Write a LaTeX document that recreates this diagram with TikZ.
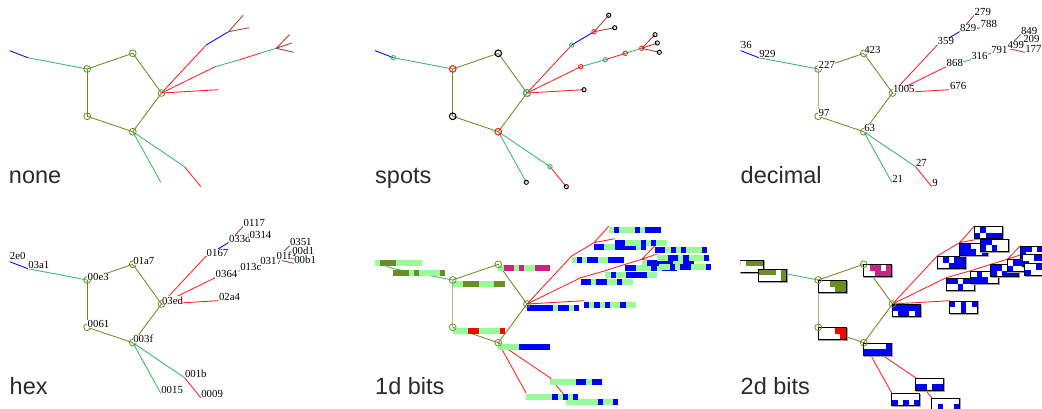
\documentclass[tikz,border=0pt]{standalone}
\usepackage{fontspec}
\setmainfont{Liberation Serif}
\newfontfamily\labfont{Liberation Sans}
\usetikzlibrary{calc}
\definecolor{olv}{HTML}{6B8E23}
\definecolor{olvl}{HTML}{A3BD7A}
\definecolor{grn}{HTML}{3CB371}
\definecolor{blu}{HTML}{0000FF}
\definecolor{rd}{HTML}{FF2020}
\definecolor{brn}{HTML}{A83A3A}
\definecolor{bitzero}{HTML}{98FB98}
\definecolor{mag}{HTML}{CC2288}
\definecolor{txt}{HTML}{2B2B2B}
\tikzset{
  edge/.style={line width=0.85pt},
  pent/.style={draw=olv, line width=0.8pt},
  numlab/.style={fill=white, inner sep=0.3pt, anchor=base west, font=\fontsize{10.8}{11}\selectfont},
  title/.style={anchor=base west, inner sep=0pt, font=\labfont\fontsize{23.5}{24}\selectfont, text=txt},
  bigspot/.style={line width=1.1pt},
  smallspot/.style={line width=0.9pt},
}
\newcommand{\mkcoords}[1]{%
\coordinate (#1-736) at (4,48.5);
\coordinate (#1-929) at (27.8,57.7);
\coordinate (#1-227) at (87.2,69);
\coordinate (#1-423) at (132.8,53.3);
\coordinate (#1-1005) at (161.5,93);
\coordinate (#1-97) at (87.2,116.3);
\coordinate (#1-63) at (132.8,131.7);
\coordinate (#1-359) at (206.2,45);
\coordinate (#1-829) at (228.5,31.7);
\coordinate (#1-279) at (243.2,15.3);
\coordinate (#1-788) at (249.2,27.7);
\coordinate (#1-868) at (215.2,66.7);
\coordinate (#1-316) at (239.8,59.7);
\coordinate (#1-791) at (259.8,53.3);
\coordinate (#1-499) at (276.2,48.3);
\coordinate (#1-849) at (289.5,34.7);
\coordinate (#1-209) at (291.8,43);
\coordinate (#1-177) at (293.8,52.3);
\coordinate (#1-676) at (218.5,89.7);
\coordinate (#1-27) at (184.5,166.7);
\coordinate (#1-9) at (200.8,186.7);
\coordinate (#1-21) at (160.8,182.3);
}
\newcommand{\coloredges}[2]{%
\draw[edge,olv] (#1-227)--(#1-423) (#1-423)--(#1-1005) (#1-1005)--(#1-63) (#1-63)--(#1-97);
\draw[edge,#2] (#1-97)--(#1-227);
\draw[edge,grn] (#1-227)--(#1-929);
\draw[edge,blu] (#1-929)--(#1-736);
\draw[edge,rd] (#1-1005)--(#1-359);
\draw[edge,blu] (#1-359)--(#1-829);
\draw[edge,brn] (#1-829)--(#1-279) (#1-829)--(#1-788);
\draw[edge,rd] (#1-1005)--(#1-868);
\draw[edge,grn] (#1-868)--(#1-316);
\draw[edge,rd] (#1-316)--(#1-791);
\draw[edge,grn] (#1-791)--(#1-499);
\draw[edge,brn] (#1-499)--(#1-849) (#1-499)--(#1-209) (#1-499)--(#1-177);
\draw[edge,rd] (#1-1005)--(#1-676);
\draw[edge,grn] (#1-63)--(#1-21) (#1-63)--(#1-27);
\draw[edge,rd] (#1-27)--(#1-9);
}
\newcommand{\plainedges}[1]{%
\draw[edge,olv] (#1-227)--(#1-423) (#1-423)--(#1-1005) (#1-1005)--(#1-63) (#1-63)--(#1-97);
\draw[edge,olvl] (#1-97)--(#1-227);
\draw[edge,grn] (#1-227)--(#1-929) (#1-929)--(#1-736);
\draw[edge,rd] (#1-1005)--(#1-359) (#1-359)--(#1-829) (#1-829)--(#1-279) (#1-829)--(#1-788)
  (#1-1005)--(#1-868) (#1-868)--(#1-316) (#1-316)--(#1-791) (#1-791)--(#1-499)
  (#1-499)--(#1-849) (#1-499)--(#1-209) (#1-499)--(#1-177) (#1-1005)--(#1-676)
  (#1-63)--(#1-21) (#1-63)--(#1-27) (#1-27)--(#1-9);
}
\newcommand{\pentcircles}[1]{%
\foreach \n in {227,423,1005,97,63} {\draw[pent] (#1-\n) circle (3.4pt);}
}
\newcommand{\bitbar}[3]{%
\foreach \bb [count=\ii from 0] in {#2} {%
  \ifnum\bb=1 \def\cc{#3}\else\def\cc{bitzero}\fi
  \fill[fill=\cc] ($(#1)+(\ii*5.2,0.8)$) rectangle ++(5.3,6);
}}
\newcommand{\bitbox}[4]{%
\draw[gray!75, line width=1.4pt] ($(#1)+(0.8,1.3)$) rectangle ++(28,12);
\filldraw[fill=white, draw=black, line width=0.8pt] ($(#1)+(0,0.5)$) rectangle ++(28,12);
\foreach \bb [count=\ii from 0] in {#2} {%
  \ifnum\bb=1 \fill[#4] ($(#1)+(0.5+\ii*5.4,1)$) rectangle ++(5.4,5.5);\fi}
\foreach \bb [count=\ii from 0] in {#3} {%
  \ifnum\bb=1 \fill[#4] ($(#1)+(0.5+\ii*5.4,6.5)$) rectangle ++(5.4,5.5);\fi}
\draw[black, line width=0.8pt] ($(#1)+(0,0.5)$) rectangle ++(28,12);
}
\begin{document}
\begin{tikzpicture}[x=1pt,y=-1pt]
\useasboundingbox[fill=white] (0,0) rectangle (1042,409);
% ---------- none
\begin{scope}[shift={(0,0)}]
 \begin{scope}
  \clip (9.5,-10) rectangle (420,230);
  \mkcoords{a}
  \coloredges{a}{olv}
  \pentcircles{a}
 \end{scope}
 \node[title] (t1) at (8.8,183.8) {none};
\end{scope}
% ---------- spots
\begin{scope}[shift={(365.5,0)}]
 \begin{scope}
  \clip (9.5,-10) rectangle (420,230);
  \mkcoords{b}
  \coloredges{b}{olv}
  \draw[bigspot,rd] (b-227) circle (3.3pt);
  \draw[bigspot,black] (b-423) circle (3.3pt);
  \draw[bigspot,grn,line width=1.4pt] (b-1005) circle (3.5pt);
  \draw[bigspot,black] (b-97) circle (3.3pt);
  \draw[bigspot,rd] (b-63) circle (3.3pt);
  \foreach \n in {929,359,316,27} {\draw[smallspot,grn] (b-\n) circle (2.2pt);}
  \foreach \n in {829,868,791,499} {\draw[smallspot,rd] (b-\n) circle (2.2pt);}
  \foreach \n in {736,279,788,849,209,177,676,9,21} {\draw[smallspot,black] (b-\n) circle (2.1pt);}
 \end{scope}
 \node[title] (t2) at (9.5,183.8) {spots};
\end{scope}
% ---------- decimal
\begin{scope}[shift={(731,0)}]
 \begin{scope}
  \clip (9.5,-10) rectangle (420,230);
  \mkcoords{c}
  \coloredges{c}{olvl}
  \pentcircles{c}
  \foreach \n in {736,929,227,423,1005,97,63,359,829,279,788,868,316,791,499,849,209,177,676,27,9,21}
    {\node[numlab] (c-\n-l) at (c-\n) {\n};}
 \end{scope}
 \node[title] (t3) at (9.5,183.8) {decimal};
\end{scope}
% ---------- hex
\begin{scope}[shift={(0,211)}]
 \begin{scope}
  \clip (9.5,-10) rectangle (420,230);
  \mkcoords{d}
  \coloredges{d}{olv}
  \pentcircles{d}
  \foreach \n/\h in {736/02e0,929/03a1,227/00e3,423/01a7,1005/03ed,97/0061,63/003f,359/0167,829/033d,279/0117,788/0314,868/0364,316/013c,791/0317,499/01f3,849/0351,209/00d1,177/00b1,676/02a4,27/001b,9/0009,21/0015}
    {\node[numlab] (d-\n-l) at (d-\n) {\h};}
 \end{scope}
 \node[title] (t4) at (9.5,183.8) {hex};
\end{scope}
% ---------- 1d bits
\begin{scope}[shift={(365.5,211)}]
 \begin{scope}
  \clip (9.5,-10) rectangle (420,230);
  \mkcoords{e}
  \plainedges{e}
  \bitbar{e-736}{1,0,1,1,1,0,0,0,0,0}{olv}
  \bitbar{e-929}{1,1,1,0,1,0,0,0,0,1}{olv}
  \bitbar{e-227}{0,0,1,1,1,0,0,0,1,1}{olv}
  \bitbar{e-423}{0,1,1,0,1,0,0,1,1,1}{mag}
  \bitbar{e-1005}{1,1,1,1,1,0,1,1,0,1}{blu}
  \bitbar{e-97}{0,0,0,1,1,0,0,0,0,1}{red}
  \bitbar{e-63}{0,0,0,0,1,1,1,1,1,1}{blu}
  \bitbar{e-359}{0,1,0,1,1,0,0,1,1,1}{blu}
  \bitbar{e-829}{1,1,0,0,1,1,1,1,0,1}{blu}
  \bitbar{e-279}{0,1,0,0,0,1,0,1,1,1}{blu}
  \bitbar{e-788}{1,1,0,0,0,1,0,1,0,0}{blu}
  \bitbar{e-868}{1,1,0,1,1,0,0,1,0,0}{blu}
  \bitbar{e-316}{0,1,0,0,1,1,1,1,0,0}{blu}
  \bitbar{e-791}{1,1,0,0,0,1,0,1,1,1}{blu}
  \bitbar{e-499}{0,1,1,1,1,1,0,0,1,1}{blu}
  \bitbar{e-849}{1,1,0,1,0,1,0,0,0,1}{blu}
  \bitbar{e-209}{0,0,1,1,0,1,0,0,0,1}{blu}
  \bitbar{e-177}{0,0,1,0,1,1,0,0,0,1}{blu}
  \bitbar{e-676}{1,0,1,0,1,0,0,1,0,0}{blu}
  \bitbar{e-27}{0,0,0,0,0,1,1,0,1,1}{blu}
  \bitbar{e-9}{0,0,0,0,0,0,1,0,0,1}{blu}
  \bitbar{e-21}{0,0,0,0,0,1,0,1,0,1}{blu}
  \pentcircles{e}
 \end{scope}
 \node[title] (t5) at (9.5,183.8) {1d bits};
\end{scope}
% ---------- 2d bits
\begin{scope}[shift={(731,211)}]
 \begin{scope}
  \clip (9.5,-10) rectangle (420,230);
  \mkcoords{f}
  \plainedges{f}
  \bitbox{f-736}{1,0,1,1,1}{0,0,0,0,0}{olv}
  \bitbox{f-929}{1,1,1,0,1}{0,0,0,0,1}{olv}
  \bitbox{f-227}{0,0,1,1,1}{0,0,0,1,1}{olv}
  \bitbox{f-423}{0,1,1,0,1}{0,0,1,1,1}{mag}
  \bitbox{f-1005}{1,1,1,1,1}{0,1,1,0,1}{blu}
  \bitbox{f-97}{0,0,0,1,1}{0,0,0,0,1}{red}
  \bitbox{f-63}{0,0,0,0,1}{1,1,1,1,1}{blu}
  \bitbox{f-359}{0,1,0,1,1}{0,0,1,1,1}{blu}
  \bitbox{f-829}{1,1,0,0,1}{1,1,1,0,1}{blu}
  \bitbox{f-279}{0,1,0,0,0}{1,0,1,1,1}{blu}
  \bitbox{f-788}{1,1,0,0,0}{1,0,1,0,0}{blu}
  \bitbox{f-868}{1,1,0,1,1}{0,0,1,0,0}{blu}
  \bitbox{f-316}{0,1,0,0,1}{1,1,1,0,0}{blu}
  \bitbox{f-791}{1,1,0,0,0}{1,0,1,1,1}{blu}
  \bitbox{f-499}{0,1,1,1,1}{1,0,0,1,1}{blu}
  \bitbox{f-849}{1,1,0,1,0}{1,0,0,0,1}{blu}
  \bitbox{f-209}{0,0,1,1,0}{1,0,0,0,1}{blu}
  \bitbox{f-177}{0,0,1,0,1}{1,0,0,0,1}{blu}
  \bitbox{f-676}{1,0,1,0,1}{0,0,1,0,0}{blu}
  \bitbox{f-27}{0,0,0,0,0}{1,1,0,1,1}{blu}
  \bitbox{f-9}{0,0,0,0,0}{0,1,0,0,1}{blu}
  \bitbox{f-21}{0,0,0,0,0}{1,0,1,0,1}{blu}
  \pentcircles{f}
 \end{scope}
 \node[title] (t6) at (9.5,183.8) {2d bits};
\end{scope}
\end{tikzpicture}
\end{document}
